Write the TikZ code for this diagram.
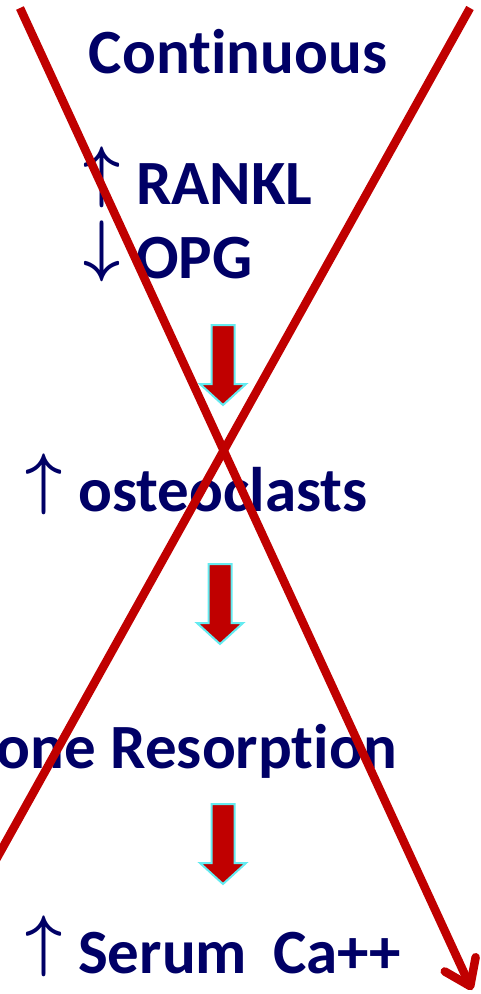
\documentclass[tikz,border=0pt]{standalone}
\usepackage{fontspec}
\setmainfont{Carlito}[Ligatures=NoCommon]
\usetikzlibrary{arrows.meta}
\definecolor{navy}{RGB}{0,0,102}
\definecolor{xred}{RGB}{192,0,0}
\definecolor{acyan}{RGB}{100,235,240}
\newcommand\myarr[1]{\makebox[53pt][l]{\raisebox{10pt}{\resizebox*{37pt}{61pt}{\boldmath$#1$}}}}
\tikzset{
  lbl/.style={anchor=base west, inner sep=0pt, text=navy, font=\fontsize{63}{70}\selectfont\bfseries},
  bigarrow/.style={fill=xred, draw=acyan, line width=2pt, line join=miter},
  cross/.style={draw=xred, line width=8.5pt},
  pics/blockarrow/.style={code={
    \path[bigarrow] (-11.5,0) -- (11.5,0) -- (11.5,59) -- (23,59) -- (0,80)
      -- (-23,59) -- (-11.5,59) -- cycle;}}
}
\begin{document}
\begin{tikzpicture}[x=1pt,y=-1pt]
\useasboundingbox (0,0) rectangle (481,994);
\clip (0,0) rectangle (481,994);
\node[lbl, anchor=base] (cont) at (238,73) {Continuous};
\node[lbl] (rankl) at (83,204) {\myarr{\uparrow}RANKL};
\node[lbl] (opg) at (83,278) {\myarr{\downarrow}OPG};
\node[lbl] (osteo) at (25,511) {\myarr{\uparrow}osteoclasts};
\node[lbl, anchor=base east] (bone) at (397,768) {Bone Resorption};
\node[lbl] (serum) at (25,973) {\myarr{\uparrow}Serum\hspace{26pt}Ca++};
\pic at (223,325) {blockarrow};
\pic at (220,564) {blockarrow};
\pic at (223,804) {blockarrow};
\coordinate (a1) at (20,8);
\coordinate (a2) at (472,990);
\coordinate (b1) at (470,8);
\coordinate (b2) at (-12,874);
\draw[cross, -{Straight Barb[length=24pt,width=34pt,round]}] (a1) -- (a2);
\draw[cross] (b1) -- (b2);
\end{tikzpicture}
\end{document}
